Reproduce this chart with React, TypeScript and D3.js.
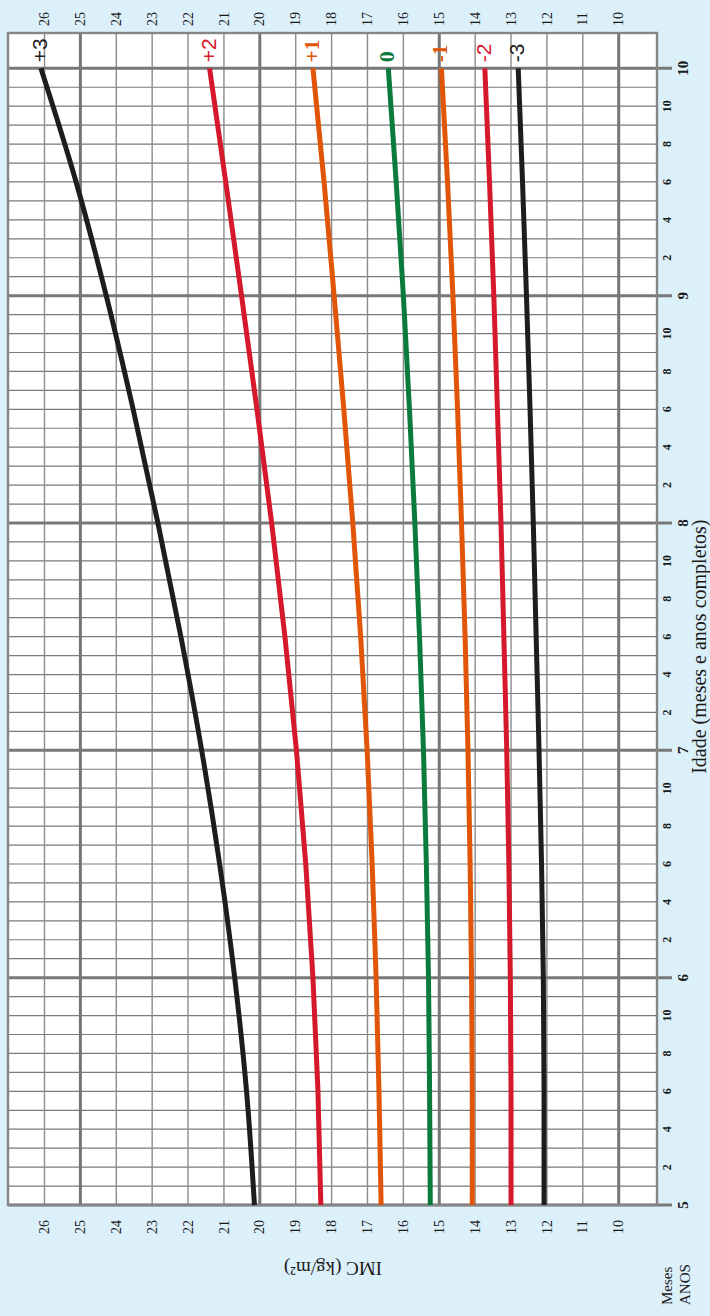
import React from 'react';
import * as d3 from 'd3';

// Age in months (5 to 10 years)
const ageMonths = [60, 66, 72, 78, 84, 90, 96, 102, 108, 114, 120];
// BMI z-score curves (kg/m²)
const zPos3 = [20.15, 20.37, 20.7, 21.12, 21.62, 22.2, 22.84, 23.53, 24.28, 25.12, 26.1];
const zPos2 = [18.3, 18.38, 18.52, 18.72, 18.98, 19.3, 19.67, 20.08, 20.51, 20.95, 21.4];
const zPos1 = [16.62, 16.68, 16.76, 16.87, 17.01, 17.19, 17.41, 17.66, 17.93, 18.21, 18.52];
const z0 = [15.25, 15.27, 15.3, 15.36, 15.44, 15.55, 15.68, 15.83, 16.0, 16.2, 16.42];
const zNeg1 = [14.08, 14.08, 14.1, 14.14, 14.2, 14.28, 14.38, 14.49, 14.62, 14.77, 14.94];
const zNeg2 = [13.0, 13.0, 13.02, 13.06, 13.12, 13.2, 13.28, 13.38, 13.48, 13.6, 13.73];
const zNeg3 = [12.08, 12.08, 12.1, 12.15, 12.22, 12.3, 12.38, 12.47, 12.57, 12.68, 12.8];

const curveLabels = ['+3', '+2', '+1', '0', '-1', '-2', '-3'];
const bmiTicks = [10, 11, 12, 13, 14, 15, 16, 17, 18, 19, 20, 21, 22, 23, 24, 25, 26];
const yearTicks = [5, 6, 7, 8, 9, 10];
const monthTickLabels = [2, 4, 6, 8, 10];

const W = 710;
const H = 1316;
const SERIF = "'Liberation Serif', 'DejaVu Serif', serif";
const SANS = "'Liberation Sans', Arial, sans-serif";

const BLACK = '#1e1c1c';
const RED = '#d5182c';
const ORANGE = '#e05508';
const GREEN = '#0b7a3d';

const seriesStyle = [
  { values: zPos3, color: BLACK, font: SANS, weight: 400, size: 21 },
  { values: zPos2, color: RED, font: SANS, weight: 400, size: 21 },
  { values: zPos1, color: ORANGE, font: SERIF, weight: 700, size: 21 },
  { values: z0, color: GREEN, font: SERIF, weight: 700, size: 22 },
  { values: zNeg1, color: ORANGE, font: SERIF, weight: 700, size: 21 },
  { values: zNeg2, color: RED, font: SANS, weight: 400, size: 21 },
  { values: zNeg3, color: BLACK, font: SANS, weight: 400, size: 21 },
];

export default function App() {
  // inner (unrotated) coordinates: u = horizontal (age), v = vertical (BMI)
  const x = d3.scaleLinear().domain([60, 120]).range([111, 1247.7]);
  const y = d3.scaleLinear().domain([10, 26]).range([618.7, 44.5]);
  const uMin = 111;
  const uMax = 1283;
  const vMin = 8;
  const vMax = 657;

  const allMonths = d3.range(60, 121);
  const line = d3
    .line<number>()
    .x((_, i) => x(ageMonths[i]))
    .y((d) => y(d))
    .curve(d3.curveMonotoneX);

  return (
    <svg
      width={W}
      height={H}
      style={{ position: 'absolute', left: 0, top: 0, display: 'block' }}
    >
      <rect x={0} y={0} width={W} height={H} fill="#dcf0fa" />
      <g transform={`translate(0,${H}) rotate(-90)`}>
        {/* plot background */}
        <rect x={uMin} y={vMin} width={uMax - uMin} height={vMax - vMin} fill="#ffffff" />

        {/* month grid lines */}
        {allMonths
          .filter((m) => m % 12 !== 0)
          .map((m) => (
            <line
              key={'m' + m}
              x1={x(m)}
              x2={x(m)}
              y1={vMin}
              y2={vMax}
              stroke="#7a7a7a"
              strokeWidth={1.2}
            />
          ))}

        {/* BMI grid lines */}
        {bmiTicks.map((b) => (
          <line
            key={'b' + b}
            x1={uMin}
            x2={uMax}
            y1={y(b)}
            y2={y(b)}
            stroke={b % 5 === 0 ? '#767676' : '#8c8c8c'}
            strokeWidth={b % 5 === 0 ? 3 : 1.4}
          />
        ))}

        {/* year lines */}
        {yearTicks.map((yr) => (
          <line
            key={'y' + yr}
            x1={x(yr * 12)}
            x2={x(yr * 12)}
            y1={vMin}
            y2={672}
            stroke="#787878"
            strokeWidth={3}
          />
        ))}

        {/* border */}
        <rect
          x={uMin}
          y={vMin}
          width={uMax - uMin}
          height={vMax - vMin}
          fill="none"
          stroke="#858585"
          strokeWidth={2.4}
        />

        {/* curves */}
        {seriesStyle.map((s, i) => (
          <path
            key={'c' + i}
            d={line(s.values) || ''}
            fill="none"
            stroke={s.color}
            strokeWidth={5}
            strokeLinecap="butt"
          />
        ))}

        {/* curve labels */}
        {seriesStyle.map((s, i) => (
          <text
            key={'l' + i}
            x={x(120) + 6}
            y={y(s.values[s.values.length - 1]) + 6}
            fill={s.color}
            fontFamily={s.font}
            fontWeight={s.weight}
            fontSize={s.size}
          >
            {curveLabels[i]}
          </text>
        ))}

        {/* BMI tick labels top and bottom */}
        {bmiTicks.map((b) => (
          <g key={'bt' + b}>
            <text
              x={1297}
              y={y(b) + 4.6}
              textAnchor="middle"
              fontFamily={SERIF}
              fontSize={14}
              fill="#1a1a1a"
            >
              {b}
            </text>
            <text
              x={89}
              y={y(b) + 4.6}
              textAnchor="middle"
              fontFamily={SERIF}
              fontSize={14}
              fill="#1a1a1a"
            >
              {b}
            </text>
          </g>
        ))}

        {/* year labels */}
        {yearTicks.map((yr) => (
          <text
            key={'yl' + yr}
            x={x(yr * 12)}
            y={688}
            textAnchor="middle"
            fontFamily={SERIF}
            fontWeight={700}
            fontSize={15}
            fill="#1a1a1a"
          >
            {yr}
          </text>
        ))}

        {/* month labels */}
        {yearTicks.slice(0, -1).map((yr) =>
          monthTickLabels.map((m) => (
            <text
              key={'ml' + yr + '-' + m}
              x={x(yr * 12 + m)}
              y={671}
              textAnchor="middle"
              fontFamily={SERIF}
              fontWeight={700}
              fontSize={12}
              fill="#1a1a1a"
            >
              {m}
            </text>
          ))
        )}

        {/* axis titles */}
        <text
          x={(x(84) + x(96)) / 2 - 10}
          y={706}
          textAnchor="middle"
          fontFamily={SERIF}
          fontSize={20}
          fill="#1a1a1a"
        >
          Idade (meses e anos completos)
        </text>
        <text
          transform={`translate(54,333) rotate(-90)`}
          textAnchor="middle"
          fontFamily={SERIF}
          fontSize={19}
          fill="#1a1a1a"
        >
          IMC (kg/m²)
        </text>
        <text x={11} y={672} fontFamily={SERIF} fontSize={15} fill="#1a1a1a">
          Meses
        </text>
        <text x={11} y={690} fontFamily={SERIF} fontSize={15} fill="#1a1a1a">
          ANOS
        </text>
      </g>
    </svg>
  );
}
